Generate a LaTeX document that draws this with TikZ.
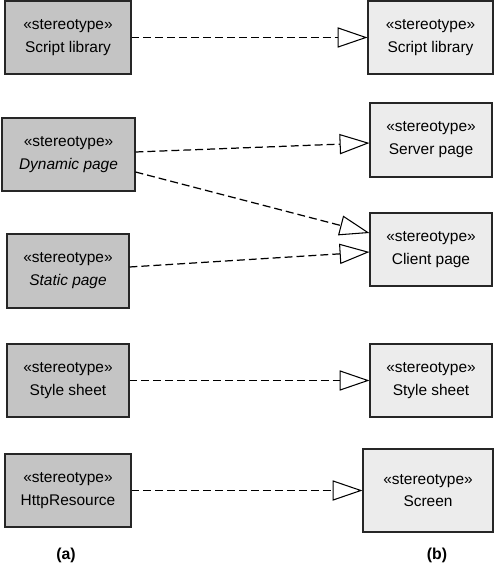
\documentclass[tikz,border=0pt]{standalone}
\usepackage{fontspec}
\setmainfont{Liberation Sans}
\usetikzlibrary{arrows.meta}
\definecolor{implfill}{gray}{0.77}
\definecolor{specfill}{gray}{0.925}
\tikzset{
  % boxes of (a) and (b)
  impl/.style={draw=black!85,line width=0.6pt,fill=implfill,align=center,
    minimum height=1.46cm,font=\fontsize{8.8}{13}\selectfont},
  spec/.style={impl,fill=specfill},
  realize/.style={line width=0.7pt,dash pattern=on 4.5pt off 2.3pt,
    -{Triangle[open,length=17pt,width=11.5pt,fill=white,line width=0.6pt]}},
  caption/.style={font=\bfseries\fontsize{9}{11}\selectfont}
}

\begin{document}
\begin{tikzpicture}
        \useasboundingbox (0,0) rectangle (10,-11.3);
        % (a)
        \node[impl,minimum width=2.52cm] (lib) at (1.36,-0.75) {«stereotype»\\Script library};
        \node[impl,minimum width=2.66cm] (dyn) at (1.37,-3.09) {«stereotype»\\\textit{Dynamic page}};
        \node[impl,minimum width=2.44cm,minimum height=1.48cm] (stat) at (1.36,-5.42) {«stereotype»\\\textit{Static page}};
        \node[impl,minimum width=2.44cm] (css) at (1.36,-7.61) {«stereotype»\\Style sheet};
        \node[impl,minimum width=2.52cm] (http) at (1.36,-9.81) {«stereotype»\\HttpResource};
        % (b)
        \node[spec,minimum width=2.5cm] (rlib) at (8.61,-0.75) {«stereotype»\\Script library};
        \node[spec,minimum width=2.44cm,minimum height=1.48cm] (srv) at (8.62,-2.80) {«stereotype»\\Server page};
        \node[spec,minimum width=2.44cm] (cli) at (8.62,-4.99) {«stereotype»\\Client page};
        \node[spec,minimum width=2.44cm] (rcss) at (8.62,-7.61) {«stereotype»\\Style sheet};
        \node[spec,minimum width=2.6cm,minimum height=1.66cm] (scr) at (8.56,-9.81) {«stereotype»\\Screen};
        \node[caption] (capa) at (1.32,-11.1) {(a)};
        \node[caption] (capb) at (8.74,-11.1) {(b)};
        \draw[realize] (lib.east) -- (rlib.west);
        \draw[realize] ([yshift=0.05cm]dyn.east) -- ([yshift=-0.06cm]srv.west);
        \draw[realize] ([yshift=-0.35cm]dyn.east) -- ([yshift=0.33cm]cli.west);
        \draw[realize] ([yshift=0.08cm]stat.east) -- ([yshift=-0.05cm]cli.west);
        \draw[realize] (css.east) -- (rcss.west);
        \draw[realize] (http.east) -- (scr.west);
      \end{tikzpicture}
\end{document}
